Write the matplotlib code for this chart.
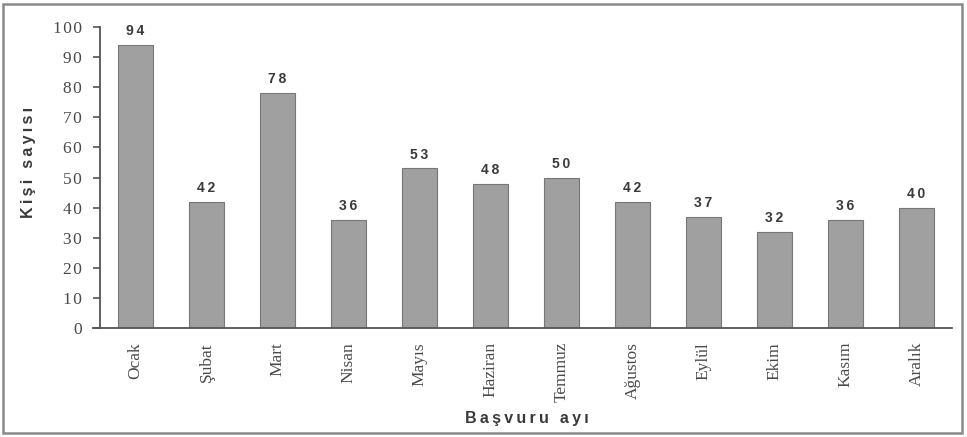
import matplotlib.pyplot as plt
from matplotlib.patches import Rectangle

aylar = ['Ocak', 'Şubat', 'Mart', 'Nisan', 'Mayıs', 'Haziran', 'Temmuz',
         'Ağustos', 'Eylül', 'Ekim', 'Kasım', 'Aralık']
kisi = [94, 42, 78, 36, 53, 48, 50, 42, 37, 32, 36, 40]
y_ticks = [0, 10, 20, 30, 40, 50, 60, 70, 80, 90, 100]

koyu = '#3a3a3a'
fig = plt.figure(figsize=(9.67, 4.37), dpi=100)
ax = fig.add_axes([0.1034, 0.2494, 0.8811, 0.6888])

x = list(range(len(aylar)))
bars = ax.bar(x, kisi, width=0.5, color='#a0a0a0', edgecolor='#777777', linewidth=0.8)

for b, v in zip(bars, kisi):
    ax.annotate('\u2009'.join(str(v)), (b.get_x() + b.get_width() / 2, v), xytext=(0, 5),
                textcoords='offset points', ha='center', va='bottom',
                fontsize=10, fontweight='bold', family='Liberation Sans', color=koyu)

ax.set_xlim(-0.5, len(aylar) - 0.5)
ax.set_ylim(0, 100)
ax.set_yticks(y_ticks)
ax.set_yticklabels(['\u200a'.join(str(t)) for t in y_ticks], family='Liberation Serif',
                   fontsize=12.5, color='#4a4a4a')
ax.set_xticks(x)
ax.set_xticklabels(aylar, rotation=90, family='Liberation Serif', fontsize=12.5, color='#4a4a4a')
ax.tick_params(axis='x', length=0, pad=10)
ax.tick_params(axis='y', length=5, width=1.2, color='#555555', pad=8)

for s in ['top', 'right']:
    ax.spines[s].set_visible(False)
for s in ['left', 'bottom']:
    ax.spines[s].set_color('#555555')
    ax.spines[s].set_linewidth(1.3)
# x ekseni y ekseninin biraz soluna uzaniyor
ax.plot([-0.6, -0.5], [0, 0], color='#555555', lw=1.3, clip_on=False)

fig.text(0.029, 1 - 162 / 437, '\u2009'.join('Kişi sayısı'), rotation=90, ha='center',
         va='center', fontsize=11.5, fontweight='bold', family='Liberation Sans', color=koyu)
fig.text(527 / 967, 1 - 418 / 437, '\u2009'.join('Başvuru ayı'), ha='center', va='center',
         fontsize=11.5, fontweight='bold', family='Liberation Sans', color=koyu)

fig.patches.append(Rectangle((3 / 967, 4 / 437), 959 / 967, 429 / 437,
                             transform=fig.transFigure, fill=False,
                             edgecolor='#8a8a8a', linewidth=1.8))

fig.savefig('out.png', dpi=100)
